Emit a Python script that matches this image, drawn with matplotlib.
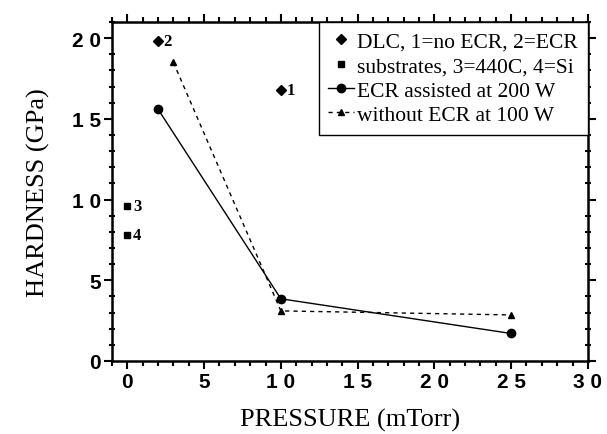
import matplotlib
matplotlib.use('Agg')
import matplotlib.pyplot as plt
from matplotlib.ticker import MultipleLocator, FuncFormatter

# data
dlc_x = [10, 2]
dlc_y = [16.8, 19.8]
dlc_lab = ['1', '2']
sub_x = [0, 0]
sub_y = [9.6, 7.8]
sub_lab = ['3', '4']
ecr_x = [2, 10, 25]
ecr_y = [15.6, 3.85, 1.7]
noecr_x = [3, 10, 25]
noecr_y = [18.5, 3.1, 2.85]

serif = 'Liberation Serif'
sans = 'Liberation Sans'

fig = plt.figure(figsize=(6.07, 4.35), dpi=100)
ax = fig.add_axes([0.1845, 0.168, 0.784, 0.779])

ax.plot(dlc_x, dlc_y, 'kD', ms=5, ls='none', label='DLC, 1=no ECR, 2=ECR')
ax.plot(sub_x, sub_y, 'ks', ms=5, ls='none', label='substrates, 3=440C, 4=Si')
ax.plot(ecr_x, ecr_y, 'k-o', lw=1, ms=6, label='ECR assisted at 200 W')
ax.plot(noecr_x, noecr_y, 'k--^', lw=1, ms=5, dashes=(3, 3),
        label='without ECR at 100 W')

for x, y, t in zip(dlc_x + sub_x, dlc_y + sub_y, dlc_lab + sub_lab):
    ax.annotate(t, (x, y), xytext=(4, 0), textcoords='offset points',
                va='center', ha='left', fontsize=12, family=serif,
                fontweight='bold')

ax.set_xlim(-1, 30)
ax.set_ylim(0, 21)
ax.xaxis.set_major_locator(MultipleLocator(5))
ax.xaxis.set_minor_locator(MultipleLocator(1))
ax.yaxis.set_major_locator(MultipleLocator(5))
ax.yaxis.set_minor_locator(MultipleLocator(1))
fmt = FuncFormatter(lambda v, p: ' '.join(str(int(round(v)))))
ax.xaxis.set_major_formatter(fmt)
ax.yaxis.set_major_formatter(fmt)

ax.tick_params(which='both', direction='out', top=True, right=True, width=1.5)
ax.tick_params(which='major', length=6, pad=2)
ax.tick_params(which='minor', length=3.5)
ax.tick_params(axis='y', which='minor', direction='inout', length=5)
for lab in ax.get_xticklabels() + ax.get_yticklabels():
    lab.set_family(sans)
    lab.set_fontsize(15)
    lab.set_fontweight('bold')
for s in ax.spines.values():
    s.set_linewidth(1.8)

ax.set_xlabel('PRESSURE (mTorr)', family=serif, fontsize=19, labelpad=12)
ax.set_ylabel('HARDNESS (GPa)', family=serif, fontsize=19, labelpad=16)

leg = ax.legend(loc='upper right', borderaxespad=0, fancybox=False,
                framealpha=1, edgecolor='black', prop={'family': serif, 'size': 15.5},
                handlelength=1.2, handletextpad=0.15, labelspacing=0.2,
                borderpad=0.45)
leg.get_frame().set_linewidth(1.0)

fig.savefig('out.png', dpi=100)
